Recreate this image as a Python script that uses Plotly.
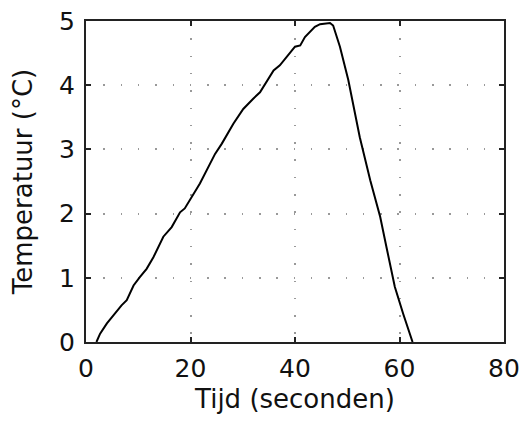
import plotly.graph_objects as go

tijd = [2.0, 2.7, 4.0, 5.5, 6.8, 7.8, 8.4, 9.1, 10.3, 11.6, 12.9, 14.8, 16.4, 18.0, 18.9,
        21.8, 24.7, 26.0, 28.2, 30.1, 32.0, 33.3, 35.9, 37.1, 40.0, 41.0, 41.9, 43.8, 44.8,
        46.7, 47.3, 48.6, 50.2, 52.4, 54.4, 56.3, 57.5, 59.1, 60.7, 62.5]
temperatuur = [0.0, 0.13, 0.29, 0.44, 0.57, 0.65, 0.75, 0.88, 1.01, 1.14, 1.32, 1.64, 1.79,
               2.02, 2.08, 2.47, 2.93, 3.09, 3.40, 3.63, 3.79, 3.89, 4.23, 4.31, 4.60, 4.62,
               4.75, 4.91, 4.95, 4.97, 4.93, 4.60, 4.08, 3.19, 2.52, 1.95, 1.48, 0.86, 0.44, 0.0]
x_ticks = [0, 20, 40, 60, 80]
y_ticks = [0, 1, 2, 3, 4, 5]

fig = go.Figure()
fig.add_trace(go.Scatter(x=tijd, y=temperatuur, mode="lines",
                         line=dict(color="black", width=2), showlegend=False))

tick_font = dict(family="DejaVu Sans, Liberation Sans, Arial", size=25, color="#111")
title_font = dict(family="DejaVu Sans, Liberation Sans, Arial", size=26, color="#111")
axis_common = dict(showline=True, linecolor="#222", linewidth=2, mirror="ticks",
                   ticks="inside", ticklen=5, tickcolor="#222", tickwidth=2,
                   showgrid=True, gridcolor="#999", gridwidth=1.5, griddash="1.5px,15.8px",
                   zeroline=False, tickfont=tick_font, automargin=False,
                   ticklabeloverflow="allow")

fig.update_xaxes(range=[0, 80], tickvals=x_ticks, ticklabelstandoff=3,
                 title=dict(text="Tijd (seconden)", font=title_font, standoff=8), **axis_common)
fig.update_yaxes(range=[0, 5], tickvals=y_ticks, ticklabelstandoff=4,
                 title=dict(text="Temperatuur (°C)", font=title_font, standoff=19), **axis_common)

fig.update_layout(width=523, height=423, margin=dict(l=86, r=19, t=21, b=81),
                  paper_bgcolor="white", plot_bgcolor="white", font=tick_font)
fig.write_html("out.html", config={"displayModeBar": False},
               post_script="document.body.style.margin='0';document.body.style.overflow='hidden';")
